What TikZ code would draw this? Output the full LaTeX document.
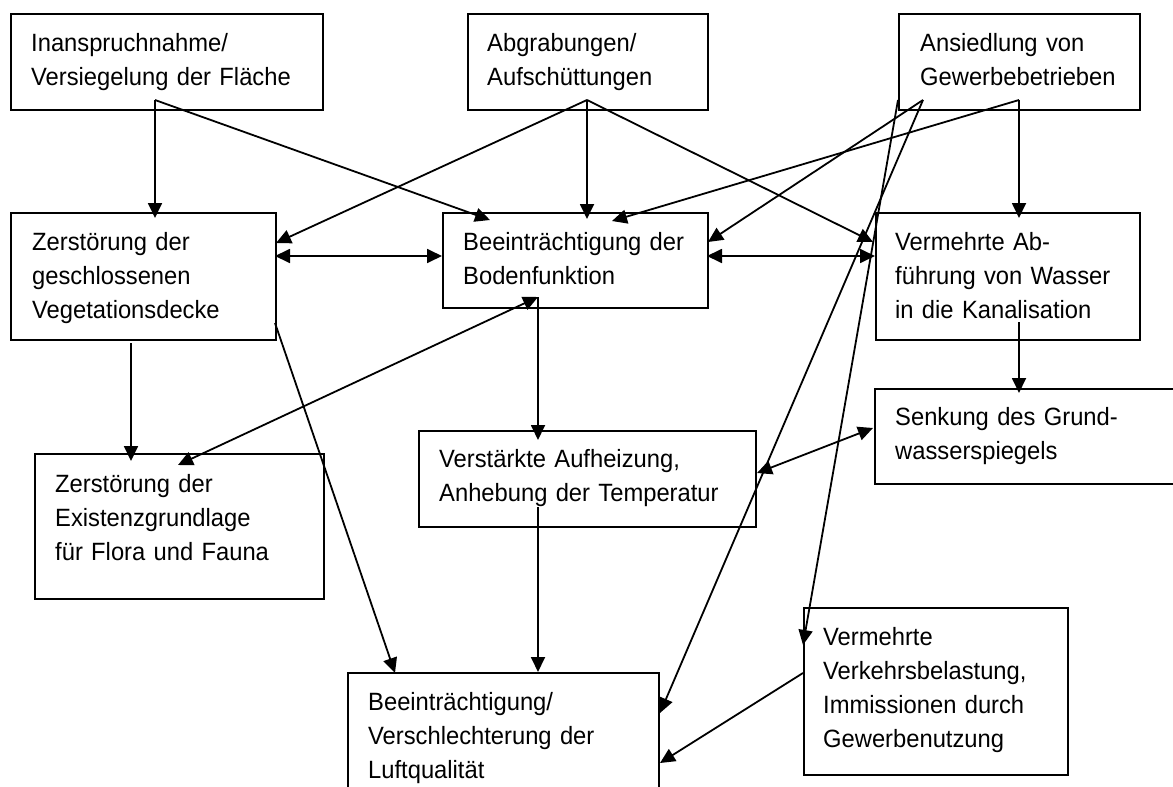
\documentclass[tikz,border=0pt]{standalone}
\usepackage{fontspec}
\setmainfont{Liberation Sans}[FakeStretch=0.95]
\usepackage{tikz}
\usetikzlibrary{arrows.meta, positioning}

\tikzset{
    box/.style={draw, line width=1.9pt, anchor=north west, inner sep=0pt},
    boxtext/.style={anchor=base west, align=left, text width=320pt, inner sep=0pt,
        font=\fontsize{25}{34}\selectfont},
    arr/.style={line width=1.8pt, -{Triangle[length=15pt,width=14pt]}},
    dbl/.style={line width=1.8pt, {Triangle[length=15pt,width=14pt]}-{Triangle[length=15pt,width=14pt]}}
}

\begin{document}
\begin{tikzpicture}[x=1pt, y=-1pt]
    \clip (0,0) rectangle (1173,787);
    \fill[white] (0,0) rectangle (1173,787);

    % Top row: causes
    \node[box, minimum width=312, minimum height=96] (inanspruch) at (10,13) {};
    \node[boxtext] (inanspruch-t) at ([shift={(21,38)}]inanspruch.north west) {Inanspruchnahme/\\Versiegelung der Fläche};
    \node[box, minimum width=240, minimum height=96] (abgrab) at (467,13) {};
    \node[boxtext] (abgrab-t) at ([shift={(20,38)}]abgrab.north west) {Abgrabungen/\\Aufschüttungen};
    \node[box, minimum width=241, minimum height=96] (ansiedl) at (898,13) {};
    \node[boxtext] (ansiedl-t) at ([shift={(22,38)}]ansiedl.north west) {Ansiedlung von\\Gewerbebetrieben};

    % Middle row
    \node[box, minimum width=265, minimum height=127] (veget) at (10,212) {};
    \node[boxtext] (veget-t) at ([shift={(22,38)}]veget.north west) {Zerstörung der\\geschlossenen\\Vegetationsdecke};
    \node[box, minimum width=265, minimum height=95] (boden) at (442,212) {};
    \node[boxtext] (boden-t) at ([shift={(21,38)}]boden.north west) {Beeinträchtigung der\\Bodenfunktion};
    \node[box, minimum width=264, minimum height=127] (abfuehr) at (875,212) {};
    \node[boxtext] (abfuehr-t) at ([shift={(20,38)}]abfuehr.north west) {Vermehrte Ab-\\führung von Wasser\\in die Kanalisation};
    \node[box, minimum width=311, minimum height=95] (grundw) at (874,388) {};
    \node[boxtext] (grundw-t) at ([shift={(21,37)}]grundw.north west) {Senkung des Grund-\\wasserspiegels};

    % Lower rows: effects
    \node[box, minimum width=289, minimum height=145] (existenz) at (34,453) {};
    \node[boxtext] (existenz-t) at ([shift={(21,39)}]existenz.north west) {Zerstörung der\\Existenzgrundlage\\für Flora und Fauna};
    \node[box, minimum width=337, minimum height=96] (aufheiz) at (418,430) {};
    \node[boxtext] (aufheiz-t) at ([shift={(21,37)}]aufheiz.north west) {Verstärkte Aufheizung,\\Anhebung der Temperatur};
    \node[box, minimum width=311, minimum height=140] (luft) at (347,672) {};
    \node[boxtext] (luft-t) at ([shift={(21,38)}]luft.north west) {Beeinträchtigung/\\Verschlechterung der\\Luftqualität};
    \node[box, minimum width=264, minimum height=167] (verkehr) at (803,607) {};
    \node[boxtext] (verkehr-t) at ([shift={(20,38)}]verkehr.north west) {Vermehrte\\Verkehrsbelastung,\\Immissionen durch\\Gewerbenutzung};

    % Arrows from Inanspruchnahme
    \draw[arr] ([shift={(145,87)}]inanspruch.north west) -- ([shift={(145,6)}]veget.north west);
    \draw[arr] ([shift={(145,87)}]inanspruch.north west) -- ([shift={(48,8)}]boden.north west);

    % Arrows from Abgrabungen
    \draw[arr] ([shift={(120,87)}]abgrab.north west) -- ([shift={(266,31)}]veget.north west);
    \draw[arr] ([shift={(120,87)}]abgrab.north west) -- ([shift={(145,7)}]boden.north west);
    \draw[arr] ([shift={(120,87)}]abgrab.north west) -- ([shift={(-2,30)}]abfuehr.north west);

    % Arrows from Ansiedlung
    \draw[arr] ([shift={(25,87)}]ansiedl.north west) -- ([shift={(266,30)}]boden.north west);
    \draw[arr] ([shift={(121,87)}]ansiedl.north west) -- ([shift={(170,9)}]boden.north west);
    \draw[arr] ([shift={(121,87)}]ansiedl.north west) -- ([shift={(144,6)}]abfuehr.north west);
    \draw[arr] ([shift={(25,87)}]ansiedl.north west) -- ([shift={(313,41)}]luft.north west);
    \draw[arr] ([shift={(0,87)}]ansiedl.north west) -- ([shift={(0,38)}]verkehr.north west);

    % Middle row links
    \draw[dbl] ([shift={(265,44)}]veget.north west) -- ([shift={(0,44)}]boden.north west);
    \draw[dbl] ([shift={(265,44)}]boden.north west) -- ([shift={(0,44)}]abfuehr.north west);
    \draw[arr] ([shift={(121,131)}]veget.north west) -- ([shift={(97,8)}]existenz.north west);
    \draw[arr] ([shift={(265,111)}]veget.north west) -- ([shift={(48,1)}]luft.north west);
    \draw[dbl] ([shift={(96,85)}]boden.north west) -- ([shift={(144,12)}]existenz.north west);
    \draw[arr] ([shift={(96,85)}]boden.north west) -- ([shift={(120,10)}]aufheiz.north west);
    \draw[arr] ([shift={(144,110)}]abfuehr.north west) -- ([shift={(145,5)}]grundw.north west);

    % Lower links
    \draw[dbl] ([shift={(339,43)}]aufheiz.north west) -- ([shift={(-1,40)}]grundw.north west);
    \draw[arr] ([shift={(120,77)}]aufheiz.north west) -- ([shift={(191,0)}]luft.north west);
    \draw[arr] ([shift={(0,66)}]verkehr.north west) -- ([shift={(313,91)}]luft.north west);
\end{tikzpicture}
\end{document}
